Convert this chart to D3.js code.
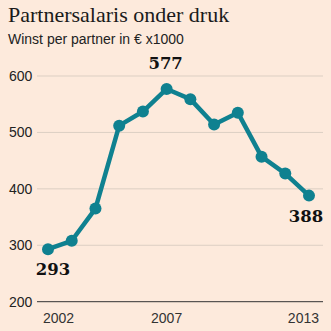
<!DOCTYPE html>
<html>
<head>
<meta charset="utf-8">
<script src="https://cdn.jsdelivr.net/npm/d3@7"></script>
<style>
  body { margin: 0; background: #fdeadc; }
  svg { display: block; }
</style>
</head>
<body>
<div id="chart"></div>
<script>
  'use strict'
  // winst per partner, x 1000 euro
  var years = [2002, 2003, 2004, 2005, 2006, 2007, 2008, 2009, 2010, 2011, 2012, 2013];
  var winst = [293, 308, 365, 512, 537, 577, 559, 514, 535, 457, 427, 388];
  var yTicks = [200, 300, 400, 500, 600];
  var xTicks = [2002, 2007, 2013];
  var labelled = [2002, 2007, 2013];

  var W = 331, H = 331;
  var sans = "Liberation Sans, Arial, sans-serif";
  var svg = d3.select("#chart").append("svg")
              .attr("width", W)
              .attr("height", H);

  svg.append("rect").attr("width", W).attr("height", H).attr("fill", "#fdeadc");

  svg.append("text")
     .attr("x", 8).attr("y", 22)
     .attr("font-family", "Liberation Serif, DejaVu Serif, serif")
     .attr("font-size", 22)
     .attr("fill", "#1a1a1a")
     .text("Partnersalaris onder druk");
  svg.append("text")
     .attr("x", 8).attr("y", 43.5)
     .attr("font-family", sans)
     .attr("font-size", 14)
     .attr("fill", "#222")
     .text("Winst per partner in € x1000");

  var x = d3.scaleLinear().domain([2002, 2013]).range([48, 309]);
  var y = d3.scaleLinear().domain([200, 600]).range([301.7, 76]);

  // gridlines
  svg.append("g").selectAll("line")
     .data(yTicks.filter(function(t){ return t > 200; }))
     .enter().append("line")
       .attr("x1", 37).attr("x2", 323)
       .attr("y1", function(d){ return y(d); })
       .attr("y2", function(d){ return y(d); })
       .attr("stroke", "#dccfc3")
       .attr("stroke-width", 1);

  svg.append("line")
     .attr("x1", 37).attr("x2", 323)
     .attr("y1", y(200)).attr("y2", y(200))
     .attr("stroke", "#333").attr("stroke-width", 1);

  svg.append("g").selectAll("text")
     .data(yTicks)
     .enter().append("text")
       .attr("x", 9)
       .attr("y", function(d){ return y(d) + 5; })
       .attr("font-family", sans)
       .attr("font-size", 14)
       .attr("fill", "#222")
       .text(function(d){ return d; });

  // first and last year hug the ends of the axis
  svg.append("g").selectAll("text")
     .data(xTicks)
     .enter().append("text")
       .attr("x", function(d){ return d === 2002 ? 43 : (d === 2013 ? 319 : x(d)); })
       .attr("y", 323)
       .attr("text-anchor", function(d){ return d === 2002 ? "start" : (d === 2013 ? "end" : "middle"); })
       .attr("font-family", sans)
       .attr("font-size", 14)
       .attr("fill", "#333")
       .text(function(d){ return d; });

  var pts = years.map(function(yr, i){ return {year: yr, v: winst[i]}; });
  var line = d3.line().x(function(d){ return x(d.year); }).y(function(d){ return y(d.v); });

  svg.append("path")
     .datum(pts)
     .attr("d", line)
     .attr("fill", "none")
     .attr("stroke", "#0f8190")
     .attr("stroke-width", 4.5)
     .attr("stroke-linejoin", "round");

  svg.append("g").selectAll("circle")
     .data(pts)
     .enter().append("circle")
       .attr("cx", function(d){ return x(d.year); })
       .attr("cy", function(d){ return y(d.v); })
       .attr("r", 6)
       .attr("fill", "#0f8190");

  // value labels: first, peak, last
  var lab = pts.filter(function(d){ return labelled.indexOf(d.year) >= 0; });
  svg.append("g").selectAll("text")
     .data(lab)
     .enter().append("text")
       .attr("x", function(d){ return d.year === 2002 ? x(d.year) + 5 : (d.year === 2013 ? x(d.year) - 3 : x(d.year) - 1); })
       .attr("y", function(d){ return d.year === 2007 ? y(d.v) - 19.5 : y(d.v) + 26; })
       .attr("text-anchor", "middle")
       .attr("font-family", "DejaVu Serif, serif")
       .attr("font-weight", "bold")
       .attr("font-size", 16.5)
       .attr("fill", "#111")
       .text(function(d){ return d.v; });
</script>
</body>
</html>
